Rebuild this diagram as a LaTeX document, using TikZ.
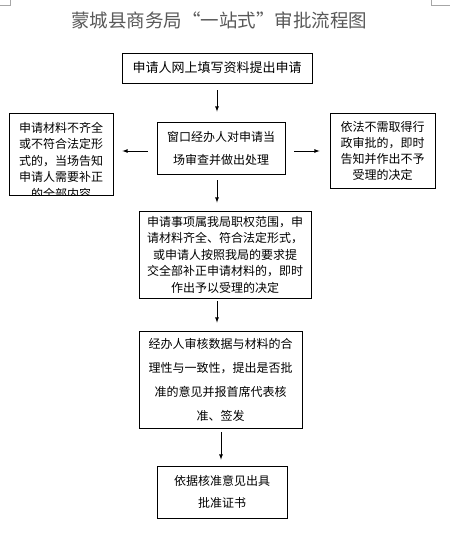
\documentclass[tikz,border=0pt]{standalone}
\usepackage{fontspec}
\newfontfamily\cjk{Noto Sans CJK SC}
\usetikzlibrary{arrows}

\begin{document}
\begin{tikzpicture}[
  x=1pt, y=-1pt,
  box/.style={
    rectangle,
    draw=black,
    line width=0.8pt,
    inner sep=0pt,
    font=\cjk\fontsize{12}{16.5}\selectfont,
    align=center
  },
  flow/.style={->, line width=0.8pt, >=latex}
]
\useasboundingbox (0,0) rectangle (450,553);

% page corner marks
\draw[black!35, line width=0.6pt] (0,5) -- (10,5) -- (10,0);
\draw[black!35, line width=0.6pt] (431,0) -- (431,5) -- (450,5);

\node[font=\cjk\fontsize{18.5}{22}\selectfont, text=black!65] (title) at (219,20) {蒙城县商务局“一站式”审批流程图};

\node[box, font=\cjk\fontsize{13}{16}\selectfont, minimum width=190pt, minimum height=30pt] (apply) at (217,68) {申请人网上填写资料提出申请};
\node[box, font=\cjk\fontsize{12}{23}\selectfont, minimum width=128pt, minimum height=52pt] (window) at (221,148) {窗口经办人对申请当\\场审查并做出处理};

% left box: last line is cut by the frame
\node[box, minimum width=104pt, minimum height=82pt] (lack) at (61,154) {};
\begin{scope}
  \clip (lack.south west) rectangle (lack.north east);
  \node[box, draw=none, anchor=north] (lacktxt) at (61,121.5) {申请材料不齐全\\或不符合法定形\\式的，当场告知\\申请人需要补正\\的全部内容};
\end{scope}

\node[box, font=\cjk\fontsize{12}{16}\selectfont, minimum width=105pt, minimum height=75pt] (refuse) at (382.5,150.5) {依法不需取得行\\政审批的，即时\\告知并作出不予\\受理的决定};

\node[box, minimum width=172pt, minimum height=87pt] (accept) at (225,254.5) {申请事项属我局职权范围，申\\请材料齐全、符合法定形式，\\或申请人按照我局的要求提\\交全部补正申请材料的，即时\\作出予以受理的决定};
\node[box, font=\cjk\fontsize{12}{24}\selectfont, minimum width=163pt, minimum height=97pt] (review) at (220.5,379.5) {经办人审核数据与材料的合\\理性与一致性，提出是否批\\准的意见并报首席代表核\\准、签发};
\node[box, font=\cjk\fontsize{12}{22}\selectfont, minimum width=130pt, minimum height=52pt] (issue) at (222,492) {依据核准意见出具\\批准证书};

\coordinate (wl) at ([yshift=-3pt]window.west);
\coordinate (wr) at ([yshift=-3pt]window.east);

\draw[flow, shorten <=7pt, shorten >=10pt] (apply.south -| 217,0) -- (window.north -| 217,0);
\draw[flow, shorten <=9pt, shorten >=9pt] (wl) -- (wl -| lack.east);
\draw[flow, shorten <=9pt, shorten >=10pt] (wr) -- (wr -| refuse.west);
\draw[flow, shorten <=6pt, shorten >=8pt] (window.south -| 217,0) -- (accept.north -| 217,0);
\draw[flow, shorten <=3pt, shorten >=8pt] (accept.south -| 217,0) -- (review.north -| 217,0);
\draw[flow, shorten <=4pt, shorten >=6pt] (review.south -| 221,0) -- (issue.north -| 221,0);

\end{tikzpicture}
\end{document}
